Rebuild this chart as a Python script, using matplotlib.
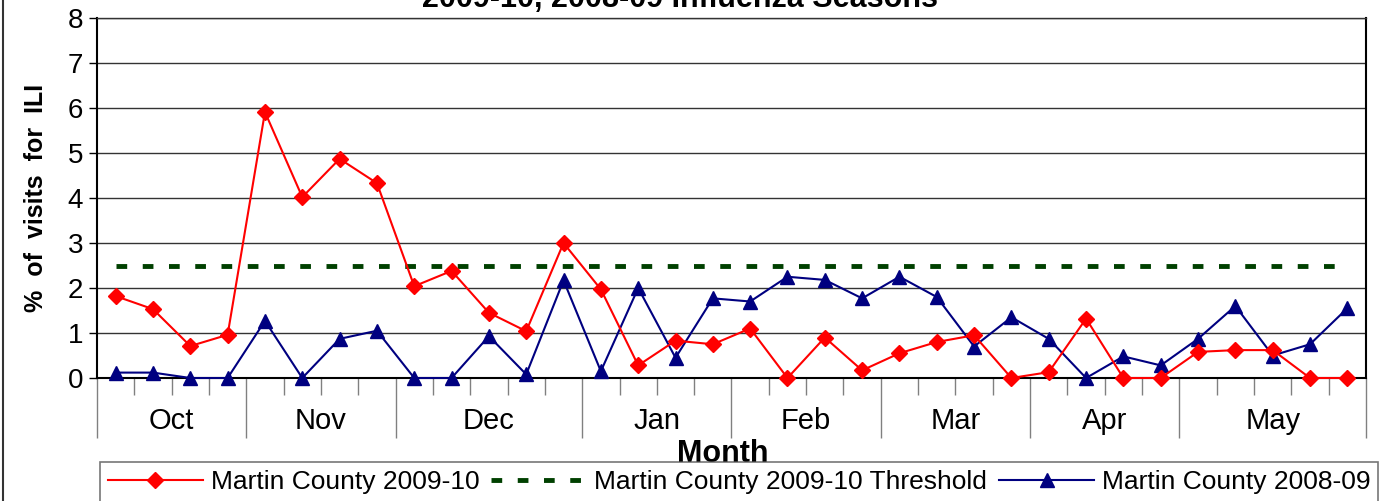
import numpy as np
import matplotlib
matplotlib.use("Agg")
import matplotlib.pyplot as plt
from matplotlib.lines import Line2D

plt.rcParams['font.family'] = ['Liberation Sans', 'DejaVu Sans']

# mois et nombre de semaines par mois
months = ['Oct', 'Nov', 'Dec', 'Jan', 'Feb', 'Mar', 'Apr', 'May']
weeks_per_month = [4, 4, 5, 4, 4, 4, 4, 5]

# % of visits for ILI, une valeur par semaine
martin_0910 = [1.82, 1.53, 0.71, 0.96, 5.91, 4.02, 4.87, 4.33,
               2.04, 2.38, 1.45, 1.04, 3.0,
               1.97, 0.28, 0.83, 0.75,
               1.1, 0.0, 0.9, 0.17,
               0.55, 0.8, 0.95, 0.0,
               0.13, 1.32, 0.0, 0.0,
               0.58, 0.62, 0.62, 0.0, 0.0]
martin_0809 = [0.12, 0.12, 0.0, 0.0, 1.27, 0.0, 0.87, 1.05,
               0.0, 0.0, 0.93, 0.08, 2.17,
               0.15, 2.0, 0.45, 1.77,
               1.7, 2.25, 2.18, 1.77,
               2.25, 1.8, 0.7, 1.35,
               0.87, 0.0, 0.48, 0.28,
               0.87, 1.6, 0.5, 0.75, 1.55]
threshold_0910 = 2.5

n = len(martin_0910)
x = np.arange(n)

fig = plt.figure(figsize=(13.92, 5.01), dpi=100)
ax = fig.add_axes([97/1392, 1-378/501, (1366-97)/1392, (378-18)/501])

ax.plot(x, martin_0910, color='#ff0000', lw=1.5, marker='D', ms=8, zorder=4, clip_on=False)
ax.plot(x, [threshold_0910]*n, color='#004000', lw=3.5, ls=(0, (2.2, 3.2)), zorder=3)
ax.plot(x, martin_0809, color='#000080', lw=1.5, marker='^', ms=10, zorder=3, clip_on=False)

ax.set_xlim(-0.5, n-0.5)
ax.set_ylim(0, 8)
ax.set_yticks(range(0, 9))
ax.yaxis.grid(True, color='#333333', lw=1)
ax.set_axisbelow(True)
ax.tick_params(axis='y', labelsize=20, length=6, width=1, direction='out', pad=4)

# séparateurs de mois et graduations hebdomadaires
bounds = np.concatenate([[0], np.cumsum(weeks_per_month)]) - 0.5
week_bounds = [b for b in np.arange(n+1) - 0.5 if b not in bounds]
ax.set_xticks(bounds)
ax.set_xticklabels([])
ax.set_xticks(week_bounds, minor=True)
ax.tick_params(axis='x', which='major', length=43, width=1, color='#808080')
ax.tick_params(axis='x', which='minor', length=12, width=1, color='#808080')
centers = (bounds[:-1] + bounds[1:]) / 2
for c, m in zip(centers, months):
    ax.text(c, -0.12, m, transform=ax.get_xaxis_transform(), ha='center', va='center', fontsize=21)

for s in ['left', 'bottom', 'right']:
    ax.spines[s].set_color('black')
    ax.spines[s].set_linewidth(1.5)
ax.spines['top'].set_color('#333333')
ax.spines['top'].set_linewidth(1)

ax.set_ylabel('%  of  visits  for  ILI', fontsize=18, fontweight='bold', labelpad=14)
fig.text(723/1392, 1-454/501, 'Month', ha='center', va='center', fontsize=22, fontweight='bold')
fig.text(680/1392, 1-7/501, '2009-10, 2008-09 Influenza Seasons', ha='center', va='baseline',
         fontsize=22, fontweight='bold')

handles = [Line2D([], [], color='#ff0000', lw=1.5, marker='D', ms=8),
           Line2D([], [], color='#004000', lw=3.5, ls=(0, (2.2, 3.2))),
           Line2D([], [], color='#000080', lw=1.5, marker='^', ms=10)]
labels = ['Martin County 2009-10', 'Martin County 2009-10 Threshold', 'Martin County 2008-09']
leg = fig.legend(handles, labels, loc='upper left', bbox_to_anchor=(100/1392, 1-462/501), ncol=3,
                 fontsize=19, frameon=True, fancybox=False, handlelength=3.6, columnspacing=0.45,
                 handletextpad=0.3, borderpad=0.3, borderaxespad=0)
leg.get_frame().set_edgecolor('#555555')
leg.get_frame().set_linewidth(1.2)

fig.add_artist(Line2D([3/1392, 3/1392], [0, 1], color='#333333', lw=1.5, transform=fig.transFigure))

fig.savefig('out.png', dpi=100)
